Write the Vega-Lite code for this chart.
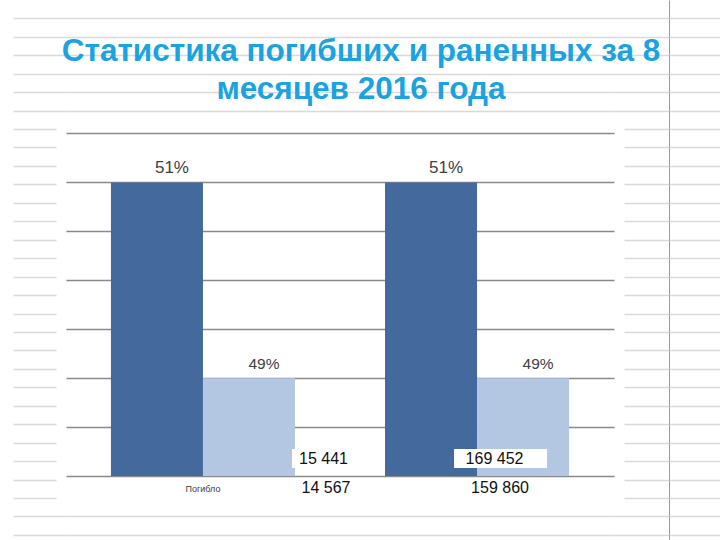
{
  "$schema": "https://vega.github.io/schema/vega-lite/v6.json",
  "width": 548,
  "height": 540,
  "autosize": {"type": "none"},
  "padding": {"left": 66, "top": 0, "right": 106, "bottom": 0},
  "background": "white",
  "config": {
    "view": {"stroke": null},
    "locale": {"number": {"decimal": ",", "thousands": " ", "grouping": [3], "currency": ["", ""]}}
  },
  "title": {
    "text": ["Статистика погибших и раненных за 8", "месяцев 2016 года"],
    "font": "Liberation Sans",
    "fontSize": 31.5,
    "fontWeight": "bold",
    "color": "#1AA3E0",
    "lineHeight": 38,
    "anchor": "middle",
    "frame": "group",
    "baseline": "top",
    "offset": -105,
    "dx": 21
  },
  "data": {
    "values": [
      {"group": "Погибло", "series": "2015", "pct": 0.51, "count": 15441},
      {"group": "Погибло", "series": "2016", "pct": 0.49, "count": 14567},
      {"group": "Ранено", "series": "2015", "pct": 0.51, "count": 169452},
      {"group": "Ранено", "series": "2016", "pct": 0.49, "count": 159860}
    ]
  },
  "resolve": {"scale": {"y": "independent"}, "axis": {"y": "independent"}},
  "layer": [
    {
      "mark": {"type": "point", "opacity": 0},
      "encoding": {
        "y": {
          "datum": 0, "type": "quantitative",
          "scale": {"domain": [-0.992, 28.276], "reverse": true, "zero": false, "nice": false},
          "axis": {
            "orient": "left", "offset": 0, "title": null, "labels": false, "domain": false,
            "values": [0,1,2,3,4,5,6,7,8,9,10,11,12,13,14,15,16,17,18,19,20,21,22,23,24,25,26,27,28],
            "grid": true,
            "gridColor": {"condition": {"test": "datum.value >= 6 && datum.value <= 26", "value": "transparent"}, "value": "#D9D9D9"},
            "gridWidth": 1.5,
            "ticks": true, "tickSize": 53, "tickColor": "#D9D9D9", "tickWidth": 1.5,
            "tickDash": {"condition": {"test": "datum.value >= 6 && datum.value <= 26", "value": [0, 10, 43, 100]}, "value": []}
          }
        }
      }
    },
    {
      "mark": {"type": "point", "opacity": 0},
      "encoding": {
        "y": {
          "datum": 0, "type": "quantitative",
          "scale": {"domain": [-0.992, 28.276], "reverse": true, "zero": false, "nice": false},
          "axis": {
            "orient": "right", "offset": 55, "title": null, "labels": false,
            "domain": true, "domainColor": "#9A9A9A", "domainWidth": 1,
            "values": [0,1,2,3,4,5,6,7,8,9,10,11,12,13,14,15,16,17,18,19,20,21,22,23,24,25,26,27,28],
            "grid": false,
            "ticks": true, "tickSize": 51, "tickColor": "#D9D9D9", "tickWidth": 1.5
          }
        }
      }
    },
    {
      "mark": {"type": "point", "opacity": 0},
      "encoding": {
        "y": {
          "datum": 0, "type": "quantitative",
          "scale": {"domain": [-0.992, 28.276], "reverse": true, "zero": false, "nice": false},
          "axis": {
            "orient": "left", "offset": -603, "title": null, "labels": false, "domain": false,
            "values": [0,1,2,3,4,5,6,7,8,9,10,11,12,13,14,15,16,17,18,19,20,21,22,23,24,25,26,27,28],
            "grid": false,
            "ticks": true, "tickColor": "#D9D9D9", "tickWidth": 1.5,
            "tickSize": {"condition": {"test": "datum.value >= 6 && datum.value <= 26", "value": 45}, "value": 55}
          }
        }
      }
    },
    {
      "layer": [
        {
          "mark": {"type": "bar"},
          "encoding": {
            "x": {
              "field": "group", "type": "nominal", "sort": ["Погибло", "Ранено"],
              "scale": {"paddingInner": 0.3285, "paddingOuter": 0.164},
              "axis": {
                "orient": "bottom", "offset": -64, "title": null, "domain": false, "ticks": false,
                "labelAngle": 0, "labelFontSize": 9, "labelColor": "#404040", "labelFont": "Liberation Sans",
                "labelPadding": 8,
                "labelExpr": "datum.value == 'Погибло' ? datum.value : ''"
              }
            },
            "xOffset": {"field": "series", "type": "nominal", "scale": {"paddingInner": 0, "paddingOuter": 0}},
            "y": {
              "field": "pct", "type": "quantitative",
              "scale": {"domain": [0.47346, 0.52864], "zero": false, "nice": false},
              "axis": {
                "orient": "left", "title": null, "labels": false, "ticks": false, "domain": false,
                "values": [0.48, 0.485, 0.49, 0.495, 0.5, 0.505, 0.51, 0.515],
                "grid": true, "gridColor": "#8A8A8A", "gridWidth": 1.5
              }
            },
            "y2": {"datum": 0.48},
            "color": {"field": "series", "type": "nominal", "scale": {"range": ["#44699C", "#B4C7E2"]}, "legend": null}
          }
        },
        {
          "mark": {"type": "text", "font": "Liberation Sans", "color": "#404040", "baseline": "alphabetic", "dx": 15, "dy": -9},
          "encoding": {
            "x": {"field": "group", "type": "nominal"},
            "xOffset": {"field": "series", "type": "nominal"},
            "y": {"field": "pct", "type": "quantitative"},
            "text": {"field": "pct", "type": "quantitative", "format": ".0%"},
            "size": {"condition": {"test": "datum.series == '2015'", "value": 17}, "value": 15.5}
          }
        },
        {
          "transform": [{"filter": "datum.group == 'Погибло' && datum.series == '2015'"}],
          "mark": {"type": "bar", "color": "white", "width": 65, "xOffset": 121.5},
          "encoding": {
            "x": {"field": "group", "type": "nominal"},
            "y": {"datum": 0.482759, "type": "quantitative"},
            "y2": {"datum": 0.480817}
          }
        },
        {
          "transform": [{"filter": "datum.group == 'Ранено' && datum.series == '2015'"}],
          "mark": {"type": "bar", "color": "white", "width": 93, "xOffset": 23.5},
          "encoding": {
            "x": {"field": "group", "type": "nominal"},
            "y": {"datum": 0.482759, "type": "quantitative"},
            "y2": {"datum": 0.480817}
          }
        },
        {
          "transform": [{"filter": "datum.group == 'Погибло' && datum.series == '2015'"}],
          "mark": {"type": "text", "font": "Liberation Sans", "fontSize": 16, "color": "#111111", "baseline": "middle", "dx": 120.5},
          "encoding": {
            "x": {"field": "group", "type": "nominal"},
            "y": {"datum": 0.481737, "type": "quantitative"},
            "text": {"field": "count", "type": "quantitative", "format": ",.0f"}
          }
        },
        {
          "transform": [{"filter": "datum.group == 'Погибло' && datum.series == '2016'"}],
          "mark": {"type": "text", "font": "Liberation Sans", "fontSize": 16, "color": "#111111", "baseline": "middle", "dx": 123},
          "encoding": {
            "x": {"field": "group", "type": "nominal"},
            "y": {"datum": 0.478774, "type": "quantitative"},
            "text": {"field": "count", "type": "quantitative", "format": ",.0f"}
          }
        },
        {
          "transform": [{"filter": "datum.group == 'Ранено' && datum.series == '2015'"}],
          "mark": {"type": "text", "font": "Liberation Sans", "fontSize": 16, "color": "#111111", "baseline": "middle", "dx": 17.5},
          "encoding": {
            "x": {"field": "group", "type": "nominal"},
            "y": {"datum": 0.481737, "type": "quantitative"},
            "text": {"field": "count", "type": "quantitative", "format": ",.0f"}
          }
        },
        {
          "transform": [{"filter": "datum.group == 'Ранено' && datum.series == '2016'"}],
          "mark": {"type": "text", "font": "Liberation Sans", "fontSize": 16, "color": "#111111", "baseline": "middle", "dx": 23},
          "encoding": {
            "x": {"field": "group", "type": "nominal"},
            "y": {"datum": 0.478774, "type": "quantitative"},
            "text": {"field": "count", "type": "quantitative", "format": ",.0f"}
          }
        }
      ]
    }
  ]
}
